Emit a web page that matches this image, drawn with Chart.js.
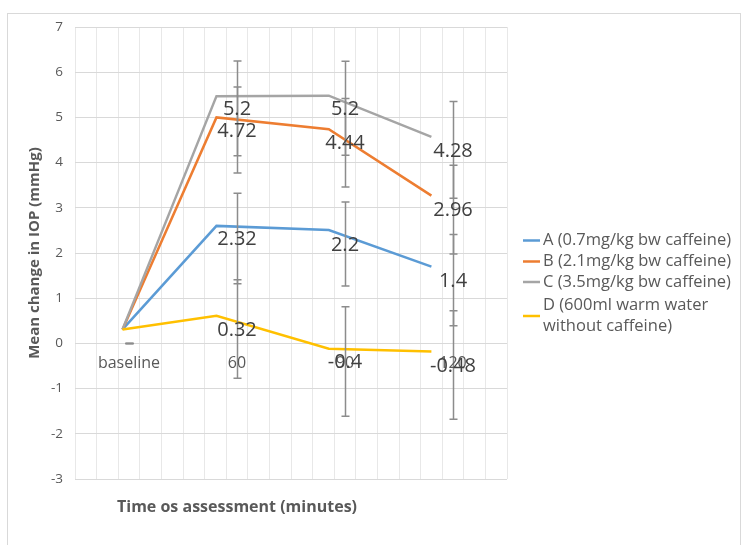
<!DOCTYPE html>
<html><head><meta charset="utf-8">
<script src="https://cdn.jsdelivr.net/npm/chart.js@4/dist/chart.umd.min.js"></script>
<style>html,body{margin:0;padding:0;background:#fff;}#wrap{position:relative;width:745px;height:545px;}</style>
</head><body><div id="wrap"><canvas id="c" width="745" height="545"></canvas></div>
<script>
// ---- data ----
const categories = ['baseline', '60', '90', '120'];
const seriesNames = ['A (0.7mg/kg bw caffeine)', 'B (2.1mg/kg bw caffeine)', 'C (3.5mg/kg bw caffeine)', ['D (600ml warm water', 'without caffeine)']];
const colors = ['#5B9BD5', '#ED7D31', '#A5A5A5', '#FFC000'];
// coloured lines as drawn in the figure (x position in category units)
const linePositions = [-0.06, 0.81, 1.85, 2.8];
const lineA = [0.31, 2.60, 2.51, 1.70];
const lineB = [0.31, 5.00, 4.74, 3.27];
const lineC = [0.31, 5.47, 5.48, 4.57];
const lineD = [0.31, 0.61, -0.12, -0.18];
// labelled means with error bars at each category
const meanA = [0, 2.32, 2.2, 1.4];
const meanB = [0, 4.72, 4.44, 2.96];
const meanC = [0, 5.2, 5.2, 4.28];
const meanD = [0, 0.32, -0.4, -0.48];
const errA = [0, 1.00, 0.93, 1.01];
const errB = [0, 0.95, 0.98, 0.98];
const errC = [0, 1.05, 1.04, 1.07];
const errD = [0, 1.09, 1.21, 1.20];
const yTicks = [-3, -2, -1, 0, 1, 2, 3, 4, 5, 6, 7];

const lines = [lineA, lineB, lineC, lineD];
const means = [meanA, meanB, meanC, meanD];
const errs = [errA, errB, errC, errD];
const FONT = '"Open Sans", "Liberation Sans", sans-serif';

const datasets = [];
lines.forEach((l, i) => datasets.push({
  label: Array.isArray(seriesNames[i]) ? seriesNames[i].join(' ') : seriesNames[i],
  data: l.map((v, k) => ({x: linePositions[k], y: v})),
  xAxisID: 'xl', borderColor: colors[i], backgroundColor: colors[i],
  borderWidth: 2.5, pointRadius: 0, tension: 0, order: 3 - i
}));
means.forEach((m, i) => datasets.push({
  label: 'mean' + i, data: m, xAxisID: 'x', showLine: false,
  pointRadius: 0, borderWidth: 0, errors: errs[i], isMean: true
}));

const decor = {
  id: 'decor',
  beforeDraw(chart) {
    const ctx = chart.ctx;
    ctx.save();
    ctx.fillStyle = '#fff';
    ctx.fillRect(0, 0, chart.width, chart.height);
    ctx.strokeStyle = '#D9D9D9';
    ctx.lineWidth = 1;
    ctx.strokeRect(7.5, 13.5, 733, 545);
    ctx.restore();
  },
  afterDatasetsDraw(chart) {
    const ctx = chart.ctx, xs = chart.scales.x, ys = chart.scales.y;
    ctx.save();
    // error bars
    ctx.strokeStyle = '#8C8C8C';
    ctx.lineWidth = 1.5;
    chart.data.datasets.forEach(ds => {
      if (!ds.isMean) return;
      ds.data.forEach((v, k) => {
        const px = Math.round(xs.getPixelForValue(k)) + 0.5;
        const e = ds.errors[k];
        const top = ys.getPixelForValue(v + e), bot = ys.getPixelForValue(v - e);
        ctx.beginPath();
        ctx.moveTo(px, top); ctx.lineTo(px, bot);
        ctx.moveTo(px - 4, top); ctx.lineTo(px + 4, top);
        ctx.moveTo(px - 4, bot); ctx.lineTo(px + 4, bot);
        ctx.stroke();
      });
    });
    // category labels next to the zero line
    ctx.fillStyle = '#595959';
    ctx.font = '16px ' + FONT;
    ctx.textAlign = 'center';
    ctx.textBaseline = 'middle';
    const y0 = ys.getPixelForValue(0);
    categories.forEach((c, k) => ctx.fillText(c, xs.getPixelForValue(k), y0 + 20));
    // data labels
    ctx.fillStyle = '#404040';
    ctx.font = '20px ' + FONT;
    chart.data.datasets.forEach(ds => {
      if (!ds.isMean) return;
      ds.data.forEach((v, k) => {
        if (k === 0) return;
        ctx.fillText(String(v), xs.getPixelForValue(k), ys.getPixelForValue(v) + 1);
      });
    });
    // x title
    ctx.fillStyle = '#595959';
    ctx.font = 'bold 16px ' + FONT;
    ctx.fillText('Time os assessment (minutes)', 237, 507);
    // legend
    ctx.font = '16.5px ' + FONT;
    ctx.textAlign = 'left';
    const rows = [240.5, 261.5, 282, 305.5];
    seriesNames.forEach((n, i) => {
      const texts = Array.isArray(n) ? n : [n];
      const yy = rows[i];
      const sy = yy + (texts.length - 1) * 10.5;
      ctx.strokeStyle = colors[i];
      ctx.lineWidth = 2.5;
      ctx.beginPath(); ctx.moveTo(523, sy); ctx.lineTo(540, sy); ctx.stroke();
      texts.forEach((t, j) => ctx.fillText(t, 543, yy + j * 21));
    });
    ctx.restore();
  }
};

new Chart(document.getElementById('c'), {
  type: 'line',
  data: {labels: categories, datasets},
  options: {
    responsive: false, animation: false,
    layout: {padding: {left: 24, top: 27, right: 238, bottom: 66}},
    plugins: {legend: {display: false}, tooltip: {enabled: false}},
    scales: {
      x: {type: 'category', offset: true, display: false},
      xl: {type: 'linear', min: -0.5, max: 3.5, display: false},
      xg: {type: 'linear', min: 0, max: 20, position: 'bottom',
        ticks: {display: false, stepSize: 1},
        grid: {color: '#E8E8E8', drawTicks: false},
        border: {display: false},
        afterFit: s => { s.height = 0; }
      },
      y: {
        min: -3, max: 7,
        afterBuildTicks: s => { s.ticks = yTicks.map(v => ({value: v})); },
        afterFit: s => { s.width = 51; },
        ticks: {color: '#595959', font: {size: 13.5, family: FONT}, padding: 12},
        grid: {color: '#D9D9D9', drawTicks: false},
        border: {display: false},
        title: {display: true, text: 'Mean change in IOP (mmHg)', color: '#595959',
          font: {size: 15, weight: 'bold', family: FONT}, padding: {top: 2, bottom: 0}}
      }
    }
  },
  plugins: [decor]
});
</script></body></html>
